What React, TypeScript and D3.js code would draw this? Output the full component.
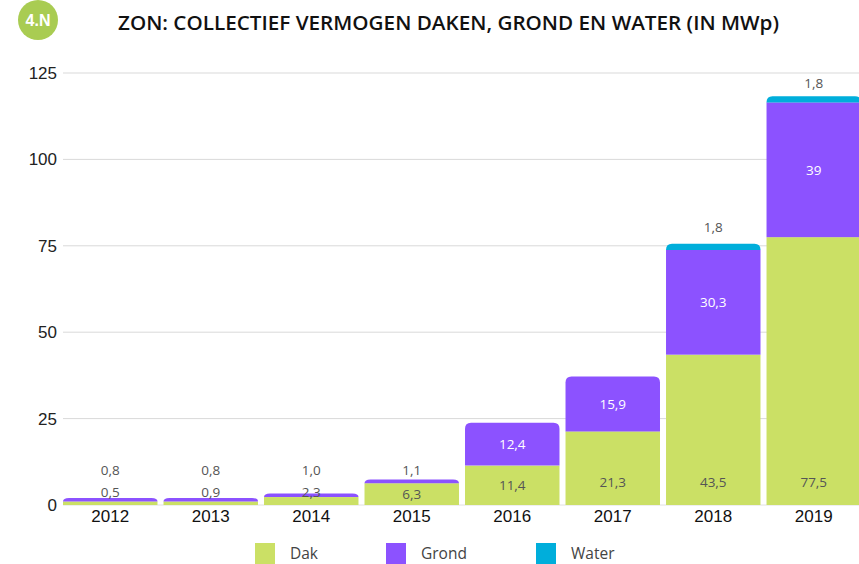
import React from "react";
import * as d3 from "d3";

const years = ["2012", "2013", "2014", "2015", "2016", "2017", "2018", "2019"];
const dak = [0.5, 0.9, 2.3, 6.3, 11.4, 21.3, 43.5, 77.5];
const grond = [0.8, 0.8, 1.0, 1.1, 12.4, 15.9, 30.3, 39];
const water = [0, 0, 0, 0, 0, 0, 1.8, 1.8];
const grondLabels = ["0,8", "0,8", "1,0", "1,1", "12,4", "15,9", "30,3", "39"];
const yTicks = [0, 25, 50, 75, 100, 125];
const seriesNames = ["Dak", "Grond", "Water"];
const colors = ["#cbe065", "#8c52ff", "#00aedb"];

const W = 859;
const H = 564;
const MIN_H = 3.5;

function fmt(v: number) {
  return String(v).replace(".", ",");
}

function topRoundedRect(x: number, y: number, w: number, h: number, r: number) {
  const rr = Math.min(r, w / 2);
  if (h < rr) {
    return `M${x},${y + h}Q${x},${y} ${x + rr},${y}H${x + w - rr}Q${x + w},${y} ${x + w},${y + h}Z`;
  }
  return `M${x},${y + h}V${y + rr}Q${x},${y} ${x + rr},${y}H${x + w - rr}Q${x + w},${y} ${x + w},${y + rr}V${y + h}Z`;
}

export default function App() {
  const x = d3.scaleBand<string>().domain(years).range([63, 861]).paddingInner(0.06).paddingOuter(0);
  const y = d3.scaleLinear().domain([0, 125]).range([505, 73]);
  const y0 = y(0);
  const bw = x.bandwidth();
  const series = [dak, grond, water];

  const segs = years.map((_, i) => {
    let cur = y0;
    const out: { top: number; bottom: number; si: number }[] = [];
    series.forEach((s, si) => {
      const v = s[i];
      if (v <= 0) return;
      const h = Math.max(y0 - y(v), MIN_H);
      out.push({ top: cur - h, bottom: cur, si });
      cur -= h;
    });
    return out;
  });

  return (
    <svg width={W} height={H} style={{ position: "absolute", left: 0, top: 0, background: "#fff" }}>
      <circle cx={38} cy={20} r={20} fill="#a9cc52" />
      <text x={38} y={26} textAnchor="middle" fill="#fff" fontFamily="Liberation Sans, Arial" fontWeight="bold" fontSize={16}>
        4.N
      </text>
      <text x={118} y={30} textLength={661} lengthAdjust="spacingAndGlyphs" fill="#111" fontFamily="'Open Sans'" fontWeight={600} fontSize={20}>
        ZON: COLLECTIEF VERMOGEN DAKEN, GROND EN WATER (IN MWp)
      </text>

      {yTicks.map((t) => (
        <g key={t}>
          <line x1={63} x2={859} y1={y(t)} y2={y(t)} stroke={t === 0 ? "#e0e0e0" : "#d9d9d9"} strokeWidth={1} />
          <text x={57} y={y(t) + 6} textAnchor="end" fontFamily="Liberation Sans, Arial" fontSize={17} fill="#222">
            {t}
          </text>
        </g>
      ))}

      {segs.map((sg, i) => {
        const x0 = x(years[i])!;
        return (
          <g key={years[i]}>
            {sg.map((s, k) => {
              const h = s.bottom - s.top;
              if (k === sg.length - 1) {
                return <path key={k} d={topRoundedRect(x0, s.top, bw, h, 6)} fill={colors[s.si]} />;
              }
              return <rect key={k} x={x0} y={s.top} width={bw} height={h} fill={colors[s.si]} />;
            })}
          </g>
        );
      })}

      {years.map((yr, i) => {
        const cx = x(yr)! + bw / 2;
        const sg = segs[i];
        const d = sg[0];
        const g = sg[1];
        const w = sg[2];
        const dh = d.bottom - d.top;
        const dY = dh >= 15 ? Math.max((d.top + d.bottom) / 2, y0 - 23) : y0 - 13;
        const gh = g.bottom - g.top;
        const gInside = gh >= 15;
        const gY = gInside ? (g.top + g.bottom) / 2 : y0 - 35;
        return (
          <g key={yr} fontFamily="'Open Sans'" fontSize={13.5} textAnchor="middle">
            <text x={cx} y={dY + 5} fill="#555">{fmt(dak[i])}</text>
            <text x={cx} y={gY + 5} fill={gInside ? "#fff" : "#555"}>{grondLabels[i]}</text>
            {w && (
              <text x={cx} y={Math.max(w.top - 17, 83) + 5} fill="#555">{fmt(water[i])}</text>
            )}
            <text x={cx} y={y0 + 17} fill="#111" fontFamily="Liberation Sans, Arial" fontSize={17}>
              {yr}
            </text>
          </g>
        );
      })}

      {seriesNames.map((n, i) => {
        const lx = [255, 386, 536][i];
        return (
          <g key={n}>
            <rect x={lx} y={543} width={20} height={21} fill={colors[i]} />
            <text x={lx + 35} y={559} fontFamily="'Open Sans'" fontSize={15.5} fill="#444">
              {n}
            </text>
          </g>
        );
      })}
    </svg>
  );
}
